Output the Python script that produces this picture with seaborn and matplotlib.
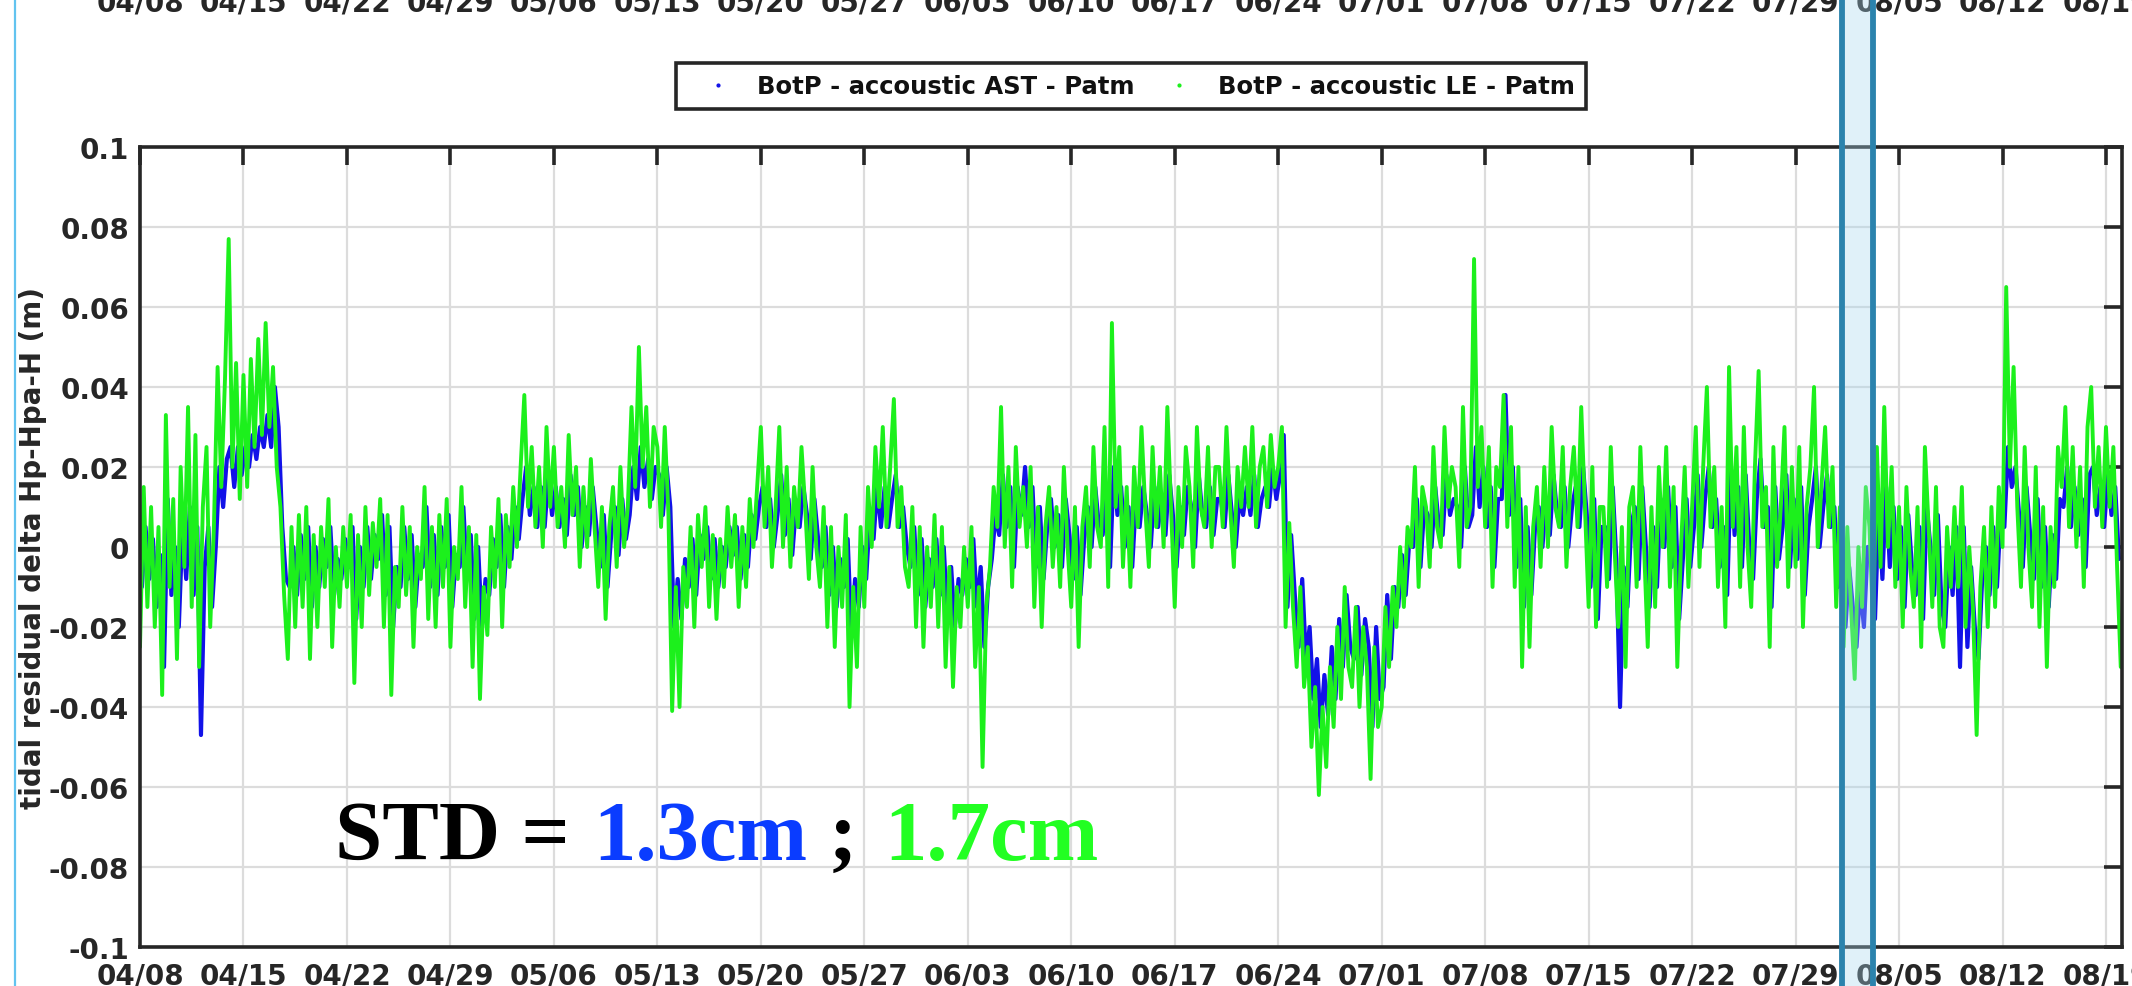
import numpy as np
import pandas as pd
import matplotlib
matplotlib.use("Agg")
import matplotlib.pyplot as plt
from matplotlib.lines import Line2D
from matplotlib.transforms import blended_transform_factory
import seaborn as sns

# ---------------- data (mm, one value every 6 h) ----------------
green_start = "2019-04-08 00:00"
blue_start = "2019-04-08 03:00"
series_step = "6h"

green_le_mm = [
    -25, 15, -15, 10,   -20, 5, -37, 33,   -10, 12, -28, 20,   -5, 35, -15, 28,
    -30, 10, 25, -20,   5, 45, 15, 42,     77, 20, 46, 12,     43, 15, 47, 25,
    52, 28, 56, 30,     45, 20, 10, -12,   -28, 5, -20, 8,     -15, 10, -28, 3,
    -20, 5, -10, 12,    -25, 0, -15, 5,    -10, 8, -34, 3,     -20, 10, -12, 6,
    -5, 12, -20, 8,     -37, -5, -15, 10,  -12, 5, -25, 0,     -8, 15, -18, 5,
    -20, 8, -10, 12,    -25, 0, -8, 15,    -15, 5, -30, 3,     -38, -10, -22, 5,
    -10, 12, -20, 8,    -5, 15, 0, 20,     38, 10, 25, 5,      20, 0, 30, 10,
    25, 5, 15, 0,       28, 8, 20, -5,     15, 0, 22, 5,       -10, 10, -18, 5,
    15, -5, 20, 0,      10, 35, 15, 50,    20, 35, 10, 30,     25, 5, 30, 8,
    -41, -10, -40, -5,  -15, 5, -20, 8,    -5, 10, -15, 3,     -18, 2, -10, 10,
    -5, 8, -15, 5,      -10, 12, 0, 15,    30, 5, 20, -5,      10, 30, 0, 20,
    -5, 15, 5, 25,      10, -8, 20, 0,     -10, 10, -20, 5,    -25, 0, -15, 8,
    -40, -10, -30, 5,   -15, 15, 0, 25,    10, 30, 5, 20,      37, 5, 15, -5,
    -10, 10, -20, 5,    -25, 0, -15, 8,    -20, 5, -30, -5,    -35, -10, -20, 0,
    -15, 5, -30, -10,   -55, -15, -5, 15,  5, 35, 0, 20,       -10, 25, 5, 15,
    0, 20, -15, 10,     -20, 5, 15, -5,    10, -10, 20, 0,     -15, 10, -25, 5,
    15, -5, 25, 5,      0, 30, -10, 56,    10, 25, -5, 15,     -10, 20, 5, 30,
    10, -5, 25, 5,      20, 0, 35, 10,     -15, 15, 0, 25,     15, -5, 30, 10,
    5, 25, 0, 20,       20, 5, 30, 10,     -5, 20, 10, 25,     10, 30, 5, 20,
    25, 10, 28, 15,     20, 30, -20, 6,    -15, -30, -10, -35, -25, -50, -35, -62,
    -40, -55, -30, -45, -20, -38, -10, -30, -35, -15, -40, -20, -30, -58, -25, -45,
    -40, -15, -30, -10, -20, 0, -15, 5,    0, 20, -10, 15,     10, -5, 25, 5,
    0, 30, 10, 20,      15, -5, 35, 5,     10, 72, 15, 30,     5, 25, -10, 20,
    15, 38, 5, 30,      -10, 20, -30, 10,  -25, 5, 15, -5,     20, 0, 30, 10,
    5, 25, -5, 15,      25, 5, 35, 10,     -15, 20, -20, 10,   10, -10, 25, 0,
    -20, 5, -30, 10,    15, -10, 25, 0,    -25, 10, -15, 20,   0, 25, -10, 15,
    -30, 0, 20, -10,    10, 30, -5, 20,    40, 5, 20, -10,     10, -20, 45, 5,
    25, -10, 30, 0,     -15, 20, 44, 5,    15, -25, 25, -5,    10, 30, -10, 20,
    -5, 25, -20, 10,    20, 40, 0, 15,     30, 5, 20, -15,     10, -25, 5, -15,
    -33, 0, -15, 15,    5, -20, 25, -5,    35, 0, 20, -10,     10, -20, 15, -5,
    -15, 10, -25, 25,   5, -15, 15, -20,   -25, 5, -10, 10,    -10, 15, -20, 0,
    -15, -47, -10, 5,   -20, 10, -15, 15,  0, 65, 20, 45,      10, -10, 25, 0,
    -15, 20, -20, 10,   -30, 5, -10, 25,   15, 35, 5, 25,      0, 20, -10, 30,
    40, 10, 25, 5,      30, 10, 25, -5,    -30,
]

blue_ast_mm = [
    -10, 5, -8, 2,      -15, -2, -30, 12,  -12, 0, -20, 5,     -8, 10, -12, 5,
    -47, -5, 5, -15,    0, 20, 10, 22,     25, 15, 25, 18,     25, 20, 28, 22,
    30, 25, 33, 25,     40, 30, 5, -8,     -10, 0, -12, 3,     -8, 5, -15, 0,
    -10, 2, -5, 5,      -12, -3, -8, 2,    -5, 5, -18, 0,      -10, 5, -8, 3,
    -3, 8, -12, 5,      -20, -5, -10, 5,   -8, 3, -15, -2,     -5, 10, -10, 3,
    -12, 5, -5, 8,      -15, -2, -5, 10,   -8, 3, -18, 0,      -20, -8, -12, 2,
    -5, 8, -10, 5,      -3, 10, 2, 12,     20, 8, 15, 5,       15, 5, 18, 8,
    15, 5, 12, 3,       18, 8, 15, 0,      10, 3, 15, 5,       -5, 8, -10, 3,
    10, -2, 12, 2,      8, 20, 12, 25,     15, 22, 12, 20,     18, 8, 20, 10,
    -20, -8, -18, -3,   -10, 2, -12, 3,    -3, 5, -8, 2,       -10, 0, -5, 5,
    -2, 5, -8, 3,       -5, 8, 2, 10,      15, 5, 12, 0,       8, 18, 3, 12,
    -2, 10, 5, 15,      8, -3, 12, 2,      -5, 5, -12, 0,      -15, -3, -10, 2,
    -22, -8, -15, 0,    -8, 8, 2, 15,      5, 15, 5, 12,       18, 5, 10, 0,
    -5, 5, -12, 2,      -15, -3, -10, 2,   -12, 0, -18, -5,    -20, -8, -12, -3,
    -10, 2, -15, -5,    -25, -10, -3, 8,   3, 18, 5, 15,       -5, 15, 8, 20,
    5, 15, -5, 10,      -8, 5, 12, 0,      8, -5, 12, 3,       -8, 5, -12, 2,
    10, 0, 15, 5,       3, 15, -5, 20,     8, 15, 0, 10,       -5, 12, 5, 15,
    8, 0, 15, 5,        12, 3, 18, 8,      -5, 10, 3, 15,      10, 0, 18, 8,
    5, 15, 3, 12,       12, 5, 18, 8,      0, 12, 8, 15,       8, 18, 5, 12,
    15, 10, 20, 12,     18, 28, -15, 3,    -12, -25, -8, -28,  -20, -38, -28, -45,
    -32, -42, -25, -38, -18, -30, -12, -25, -28, -15, -32, -18, -25, -45, -20, -38,
    -35, -12, -28, -10, -15, -2, -12, 2,   0, 12, -5, 10,      8, 0, 15, 5,
    3, 18, 8, 12,       10, 0, 20, 5,      8, 25, 10, 20,      5, 15, -5, 12,
    12, 38, 8, 20,      -5, 12, -15, 5,    -12, 5, 10, 0,      12, 3, 18, 8,
    5, 15, 0, 10,       15, 5, 20, 8,      -10, 12, -18, 5,    5, -8, 15, -3,
    -40, -5, -15, 5,    10, -8, 15, 0,     -15, 5, -10, 12,    0, 15, -5, 10,
    -18, -3, 12, -5,    5, 18, 0, 12,      20, 5, 12, -5,      5, -12, 20, 3,
    15, -5, 18, 0,      -8, 12, 22, 5,     10, -15, 15, -3,    5, 18, -5, 12,
    -3, 15, -12, 5,     12, 20, 0, 10,     18, 5, 10, -10,     5, -20, -5, -15,
    -25, -10, -20, 0,   0, -18, 10, -8,    15, -5, 10, -8,     5, -15, 8, -5,
    -12, 5, -18, 10,    0, -12, 8, -15,    -20, 0, -12, 5,     -30, 5, -25, -5,
    -20, -28, -8, 0,    -12, 5, -10, 8,    5, 25, 15, 20,      8, -5, 15, 3,
    -8, 12, -10, 5,     -15, 3, -8, 12,    10, 20, 5, 15,      3, 12, -5, 18,
    20, 8, 15, 5,       18, 8, 15, -3,
]

tick_dates = ["2019-04-08", "2019-04-15", "2019-04-22", "2019-04-29", "2019-05-06",
              "2019-05-13", "2019-05-20", "2019-05-27", "2019-06-03", "2019-06-10",
              "2019-06-17", "2019-06-24", "2019-07-01", "2019-07-08", "2019-07-15",
              "2019-07-22", "2019-07-29", "2019-08-05", "2019-08-12", "2019-08-19"]
tick_labels = ["04/08", "04/15", "04/22", "04/29", "05/06", "05/13", "05/20",
               "05/27", "06/03", "06/10", "06/17", "06/24", "07/01", "07/08",
               "07/15", "07/22", "07/29", "08/05", "08/12", "08/19"]
y_ticks = [-0.1, -0.08, -0.06, -0.04, -0.02, 0, 0.02, 0.04, 0.06, 0.08, 0.1]
y_tick_labels = ["-0.1", "-0.08", "-0.06", "-0.04", "-0.02", "0",
                 "0.02", "0.04", "0.06", "0.08", "0.1"]
x_range = ("2019-04-08 00:00", "2019-08-20 02:00")
band_range = ("2019-08-01 04:00", "2019-08-03 06:00")
legend_labels = ["BotP - accoustic AST - Patm", "BotP - accoustic LE - Patm"]
y_label = "tidal residual delta Hp-Hpa-H (m)"
std_parts = ["STD =", "1.3cm", ";", "1.7cm"]
std_anchor = ("2019-04-21 04:30", -0.078)

# ---------------- styling ----------------
BLUE = "#1212e8"
GREEN = "#1cf01c"
DARK = "#262626"

sns.set_theme(style="white")
plt.rcParams["font.family"] = ["DejaVu Sans"]
plt.rcParams["font.weight"] = "bold"

df_le = pd.DataFrame({
    "time": pd.date_range(green_start, periods=len(green_le_mm), freq=series_step),
    "value": np.array(green_le_mm) / 1000.0,
})
df_ast = pd.DataFrame({
    "time": pd.date_range(blue_start, periods=len(blue_ast_mm), freq=series_step),
    "value": np.array(blue_ast_mm) / 1000.0,
})

W, H = 2132, 987
fig = plt.figure(figsize=(W / 100, H / 100), dpi=100)
fig.patch.set_facecolor("white")
ax_l, ax_r, ax_t, ax_b = 140, 2122, 148, 948
ax = fig.add_axes([ax_l / W, (H - ax_b) / H, (ax_r - ax_l) / W, (ax_b - ax_t) / H])

sns.lineplot(data=df_ast, x="time", y="value", ax=ax, color=BLUE, lw=3.0,
             estimator=None, sort=False, legend=False)
sns.lineplot(data=df_le, x="time", y="value", ax=ax, color=GREEN, lw=2.8,
             estimator=None, sort=False, legend=False)

ax.set_xlim(pd.Timestamp(x_range[0]), pd.Timestamp(x_range[1]))
ax.set_ylim(y_ticks[0], y_ticks[-1])
ax.set_xticks(pd.to_datetime(tick_dates))
ax.set_xticklabels(tick_labels)
ax.set_yticks(y_ticks)
ax.set_yticklabels(y_tick_labels)
ax.set_xlabel("")
ax.set_ylabel(y_label, fontsize=20, fontweight="bold", color=DARK)
ax.yaxis.set_label_coords(-0.047, 0.5)

ax.set_axisbelow(True)
ax.grid(True, color="#dcdcdc", lw=1.6)
for s in ax.spines.values():
    s.set_color(DARK)
    s.set_linewidth(2.6)
ax.tick_params(axis="both", direction="in", length=13, width=2.6, color=DARK,
               top=True, right=True, labelsize=20, labelcolor=DARK)
ax.tick_params(axis="y", pad=8)
ax.tick_params(axis="x", pad=10.5)
for lab in ax.get_xticklabels() + ax.get_yticklabels():
    lab.set_fontweight("bold")

# legend
handles = [Line2D([], [], marker=".", ls="none", color=BLUE, markersize=4),
           Line2D([], [], marker=".", ls="none", color=GREEN, markersize=4)]
leg = ax.legend(handles, legend_labels, loc="lower center",
                bbox_to_anchor=(0.5, 1 + 38 / (ax_b - ax_t)), ncol=2,
                frameon=True, fancybox=False, framealpha=1,
                prop={"size": 17.5, "weight": "bold"}, borderpad=0.45,
                handlelength=2.5, handletextpad=0.35, columnspacing=0.6,
                borderaxespad=0)
leg.get_frame().set_edgecolor(DARK)
leg.get_frame().set_linewidth(2.6)
for t in leg.get_texts():
    t.set_color("#111111")

# STD annotation (multi-colour)
std_font = dict(fontsize=61, fontfamily="Liberation Serif", fontweight="bold")
t1 = ax.text(pd.Timestamp(std_anchor[0]), std_anchor[1], std_parts[0],
             color="black", va="baseline", ha="left", zorder=6, **std_font)
t2 = ax.annotate(std_parts[1], xy=(1, 0), xycoords=t1, xytext=(17, 0),
                 textcoords="offset points", va="bottom", ha="left",
                 color="#0a3cff", zorder=6, **std_font)
t3 = ax.annotate(std_parts[2], xy=(1, 0), xycoords=t2, xytext=(15, 0),
                 textcoords="offset points", va="bottom", ha="left",
                 color="black", zorder=6, **std_font)
t4 = ax.annotate(std_parts[3], xy=(1, 0), xycoords=t3, xytext=(20, 0),
                 textcoords="offset points", va="bottom", ha="left",
                 color="#22ff22", zorder=6, **std_font)

# cut-off tick labels of the panel above
tr = blended_transform_factory(ax.transData, fig.transFigure)
for d, lab in zip(pd.to_datetime(tick_dates), tick_labels):
    ax.text(d, 1 - 12 / H, lab, transform=tr, ha="center", va="baseline",
            fontsize=20, fontweight="bold", color=DARK, clip_on=False)

# highlighted time window spanning the whole figure
y_lo = -(H - ax_b) / (ax_b - ax_t) - 0.01
y_hi = ax_b / (ax_b - ax_t) + 0.01
b0, b1 = pd.Timestamp(band_range[0]), pd.Timestamp(band_range[1])
ax.axvspan(b0, b1, ymin=y_lo, ymax=y_hi, facecolor="#a8d8f0", alpha=0.35,
           edgecolor="none", clip_on=False, zorder=10)
for b in (b0, b1):
    ax.axvline(b, ymin=y_lo, ymax=y_hi, color="#2b83ad", lw=4.2,
               clip_on=False, zorder=11)

# slide frame line at the left edge
fig.add_artist(Line2D([15 / W, 15 / W], [0, 1], transform=fig.transFigure,
                      color="#62c3ef", lw=1.6))

fig.savefig("out.png", dpi=100, facecolor="white")
